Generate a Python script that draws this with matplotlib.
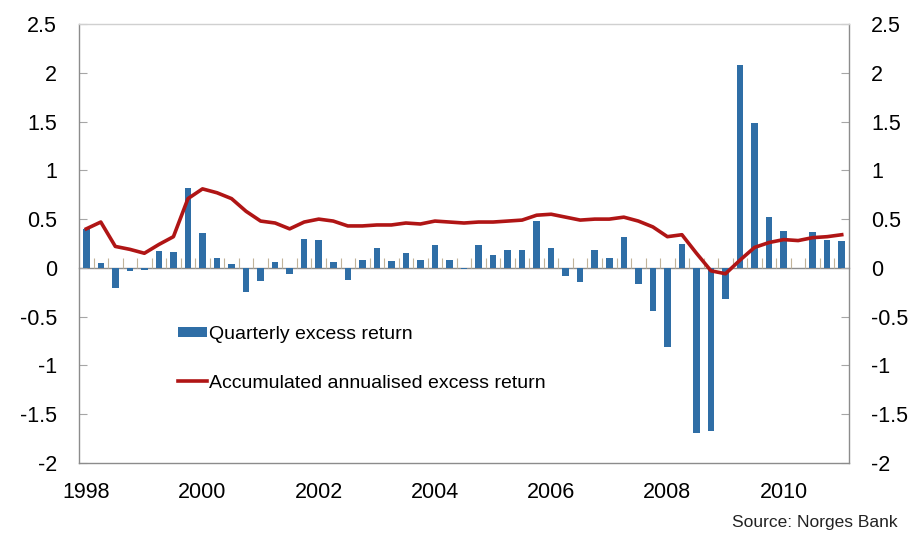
import matplotlib
matplotlib.use("Agg")
import matplotlib.pyplot as plt
import numpy as np
from matplotlib.ticker import FixedLocator, NullFormatter

plt.rcParams['font.family'] = ['Liberation Sans', 'DejaVu Sans']

# Quarters 1998Q1 .. 2011Q1
years = [1998, 2000, 2002, 2004, 2006, 2008, 2010]
quarterly = [0.40, 0.05, -0.21, -0.03, -0.02, 0.17, 0.16, 0.82,
             0.36, 0.10, 0.04, -0.25, -0.13, 0.06, -0.06, 0.30,
             0.29, 0.06, -0.12, 0.08, 0.20, 0.07, 0.15, 0.08,
             0.23, 0.08, -0.01, 0.23, 0.13, 0.18, 0.18, 0.48,
             0.20, -0.08, -0.14, 0.18, 0.10, 0.32, -0.17, -0.44,
             -0.81, 0.24, -1.69, -1.67, -0.32, 2.08, 1.49, 0.52,
             0.38, 0.0, 0.37, 0.29, 0.28]
accumulated = [0.40, 0.47, 0.22, 0.19, 0.15, 0.24, 0.32, 0.71,
               0.81, 0.77, 0.71, 0.58, 0.48, 0.46, 0.40, 0.47,
               0.50, 0.48, 0.43, 0.43, 0.44, 0.44, 0.46, 0.45,
               0.48, 0.47, 0.46, 0.47, 0.47, 0.48, 0.49, 0.54,
               0.55, 0.52, 0.49, 0.50, 0.50, 0.52, 0.48, 0.42,
               0.32, 0.34, 0.15, -0.03, -0.06, 0.08, 0.21, 0.26,
               0.29, 0.28, 0.31, 0.32, 0.34]
yticks = [-2, -1.5, -1, -0.5, 0, 0.5, 1, 1.5, 2, 2.5]
ytick_labels = ['-2', '-1.5', '-1', '-0.5', '0', '0.5', '1', '1.5', '2', '2.5']

BLUE = '#2f6ea6'
RED = '#b01515'
GRAY = '#a6a6a6'

fig = plt.figure(figsize=(9.19, 5.34), dpi=100)
ax = fig.add_axes([79/919, 1-463/534, (849-79)/919, (463-24)/534])

x = np.arange(len(quarterly))
ax.bar(x, quarterly, width=0.45, color=BLUE, zorder=2,
       label='Quarterly excess return')
ax.plot(x, accumulated, color=RED, lw=2.6, zorder=3,
        label='Accumulated annualised excess return')

ax.set_xlim(-0.5, len(quarterly) - 0.5)
ax.set_ylim(-2, 2.5)
ax.set_yticks(yticks)
ax.set_yticklabels(ytick_labels)
ax.set_xticks([8 * k for k in range(len(years))])
ax.set_xticklabels([str(y) for y in years])

ax.tick_params(axis='y', direction='in', length=6, width=0.8, color=GRAY,
               labelsize=15.5, pad=16, left=True, right=True,
               labelleft=True, labelright=True)
ax.tick_params(axis='x', length=0, labelsize=15.5, pad=14)

for s in ['left', 'right', 'bottom']:
    ax.spines[s].set_color('#8c8c8c')
    ax.spines[s].set_linewidth(1.0)
ax.spines['top'].set_color('#d0d0d0')
ax.spines['top'].set_linewidth(1.0)

# category axis crossing at zero
ax3 = ax.twiny()
ax3.set_xlim(ax.get_xlim())
ax3.set_ylim(ax.get_ylim())
for s in ['left', 'right', 'top']:
    ax3.spines[s].set_visible(False)
ax3.spines['bottom'].set_position(('data', 0))
ax3.spines['bottom'].set_color('#8c8c8c')
ax3.spines['bottom'].set_linewidth(1.0)
ax3.spines['bottom'].set_zorder(1)
ax3.xaxis.set_ticks_position('bottom')
ax3.xaxis.set_major_locator(FixedLocator(np.arange(0.5, len(quarterly) - 0.5, 1.0)))
ax3.xaxis.set_major_formatter(NullFormatter())
ax3.tick_params(axis='x', direction='in', length=7, width=0.8, color='#c2b49a')
ax3.set_zorder(0)
ax.set_zorder(1)
ax.patch.set_visible(False)

handles, labels = ax.get_legend_handles_labels()
order = [labels.index('Quarterly excess return'),
         labels.index('Accumulated annualised excess return')]
leg = ax.legend([handles[i] for i in order], [labels[i] for i in order],
                loc='upper left', bbox_to_anchor=(178/919, 1-326/534),
                bbox_transform=fig.transFigure, frameon=False, fontsize=14,
                handlelength=1.5, handleheight=0.45, handletextpad=0.1,
                labelspacing=1.62, borderaxespad=0, borderpad=0)

fig.text(898/919, 1-523/534, 'Source: Norges Bank', ha='right', va='center',
         fontsize=12.5, color='#222222')

fig.savefig('out.png', dpi=100)
